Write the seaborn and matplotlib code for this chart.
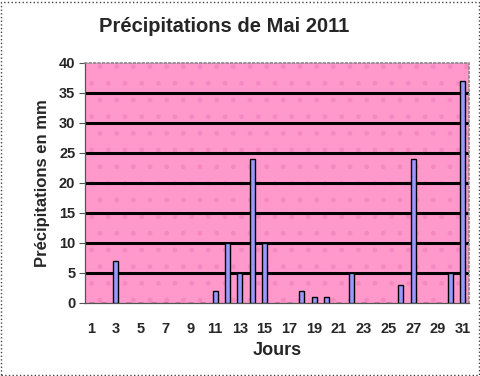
import matplotlib
matplotlib.use("Agg")
import matplotlib.pyplot as plt
import matplotlib.patches as mpatches
import seaborn as sns
import pandas as pd
import numpy as np

days = list(range(1, 32))
rain_days = [3, 11, 12, 13, 14, 15, 18, 19, 20, 22, 26, 27, 30, 31]
rain_mm = [7, 2, 10, 5, 24, 10, 2, 1, 1, 5, 3, 24, 5, 37]
values = [dict(zip(rain_days, rain_mm)).get(d, 0) for d in days]
y_ticks = [0, 5, 10, 15, 20, 25, 30, 35, 40]
title = "Précipitations de Mai 2011"
xlabel = "Jours"
ylabel = "Précipitations en mm"

df = pd.DataFrame({"jour": [str(d) for d in days], "mm": values})

sns.set_theme(style="white")
plt.rcParams['font.family'] = ['Liberation Sans', 'DejaVu Sans']

fig = plt.figure(figsize=(4.81, 3.76), dpi=100)
ax = fig.add_axes([85/481, 73/376, 384/481, 240/376])
ax.set_facecolor('#FF99CC')
ax.add_patch(mpatches.Rectangle((0, 0), 1, 1, transform=ax.transAxes, facecolor='none',
                                edgecolor='#F588C0', hatch='.', linewidth=0, zorder=0))

for y in y_ticks[1:-1]:
    ax.axhline(y, color='black', linewidth=2.2, zorder=1)

sns.barplot(data=df, x="jour", y="mm", color='#9999FF', edgecolor='black',
            linewidth=1.0, width=0.4, saturation=1, ax=ax, zorder=3)

ax.set_ylim(0, 40)
ax.set_xlim(-0.5, 30.5)
ax.set_yticks(y_ticks)
ax.set_yticklabels([str(v) for v in y_ticks], fontsize=10.5, fontweight='bold')
ax.set_xticks(range(31))
ax.set_xticklabels([str(d) if d % 2 == 1 else "" for d in days], fontsize=10.5, fontweight='bold')
ax.set_xticks(np.arange(-0.5, 31, 1), minor=True)
ax.tick_params(axis='x', which='major', length=0, pad=14)
ax.tick_params(axis='x', which='minor', length=4, width=0.8, color='#555555', direction='out')
ax.tick_params(axis='y', which='major', length=4, width=0.8, color='#555555', direction='out', pad=3, left=True)

ax.set_xlabel(xlabel, fontsize=13, fontweight='bold', labelpad=4)
ax.set_ylabel(ylabel, fontsize=12, fontweight='bold', labelpad=6)

for s in ['left', 'bottom']:
    ax.spines[s].set_color('#555555')
    ax.spines[s].set_linewidth(0.9)
for s in ['top', 'right']:
    ax.spines[s].set_color('#888888')
    ax.spines[s].set_linewidth(1.2)
    ax.spines[s].set_linestyle(':')

fig.text(224/481, 1 - 27/376, title, ha='center', va='center', fontsize=14.5, fontweight='bold')

fig.add_artist(mpatches.Rectangle((1/481, 1/376), 478/481, 373/376, transform=fig.transFigure,
                                  fill=False, edgecolor='#444444', linestyle=':', linewidth=1.0))

fig.savefig("out.png", dpi=100)
